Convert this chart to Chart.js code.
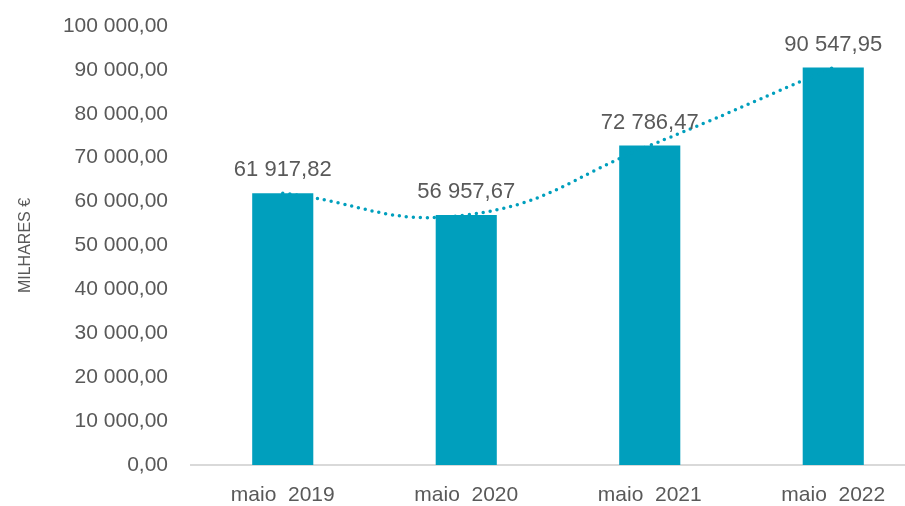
<!DOCTYPE html>
<html>
<head>
<meta charset="utf-8">
<script src="https://cdn.jsdelivr.net/npm/chart.js@4"></script>
<style>
  html, body { margin: 0; padding: 0; background: #fff; overflow: hidden; }
  #wrap { width: 925px; height: 506px; }
</style>
</head>
<body>
<div id="wrap"><canvas id="chart"></canvas></div>
<script>
const categories = ['maio  2019', 'maio  2020', 'maio  2021', 'maio  2022'];
const values = [61917.82, 56957.67, 72786.47, 90547.95];
const yTicks = [0, 10000, 20000, 30000, 40000, 50000, 60000, 70000, 80000, 90000, 100000];

const TEAL = '#009fbd';
const GREY = '#595959';
const FONT = "'Liberation Sans', Arial, sans-serif";

// 61917.82 -> "61 917,82"
function fmt(v) {
  const parts = v.toFixed(2).split('.');
  const int = parts[0].replace(/\B(?=(\d{3})+(?!\d))/g, ' ');
  return int + ',' + parts[1];
}

// values above bars
const barLabels = {
  id: 'barLabels',
  afterDatasetsDraw(chart) {
    const ctx = chart.ctx;
    const meta = chart.getDatasetMeta(0);
    ctx.save();
    ctx.font = '22px ' + FONT;
    ctx.fillStyle = GREY;
    ctx.textAlign = 'center';
    ctx.textBaseline = 'bottom';
    meta.data.forEach((bar, i) => {
      ctx.fillText(fmt(values[i]), bar.x, bar.y - 12);
    });
    ctx.restore();
  }
};

new Chart(document.getElementById('chart'), {
  data: {
    labels: categories,
    datasets: [
      {
        type: 'bar',
        data: values,
        backgroundColor: TEAL,
        categoryPercentage: 1,
        barPercentage: 0.333,
        order: 2
      },
      {
        type: 'line',
        data: values,
        borderColor: TEAL,
        borderWidth: 3.5,
        borderDash: [0, 7],
        borderCapStyle: 'round',
        pointRadius: 0,
        tension: 0.45,
        fill: false,
        order: 1
      }
    ]
  },
  options: {
    responsive: true,
    maintainAspectRatio: false,
    animation: false,
    layout: { padding: { top: 26, left: 0, right: 0, bottom: 0 } },
    plugins: {
      legend: { display: false },
      tooltip: { enabled: false }
    },
    scales: {
      x: {
        grid: { display: false, drawTicks: false },
        border: { display: true, color: '#d9d9d9', width: 2 },
        ticks: { color: GREY, font: { family: FONT, size: 21 }, padding: 18 },
        afterFit(scale) {
          scale.height = 41;
          scale.paddingLeft = 0;
          scale.paddingRight = 0;
        }
      },
      y: {
        min: 0,
        max: 100000,
        grid: { display: false, drawTicks: false },
        border: { display: false },
        afterBuildTicks(scale) { scale.ticks = yTicks.map(v => ({ value: v })); },
        ticks: {
          color: GREY,
          font: { family: FONT, size: 21 },
          padding: 23,
          callback: v => fmt(v)
        },
        title: {
          display: true,
          text: 'MILHARES €',
          color: GREY,
          font: { family: FONT, size: 16 },
          padding: { top: 16, bottom: 0 }
        },
        afterFit(scale) {
          scale.width = 191;
          scale.paddingTop = 0;
          scale.paddingBottom = 0;
        }
      }
    }
  },
  plugins: [barLabels]
});
</script>
</body>
</html>
